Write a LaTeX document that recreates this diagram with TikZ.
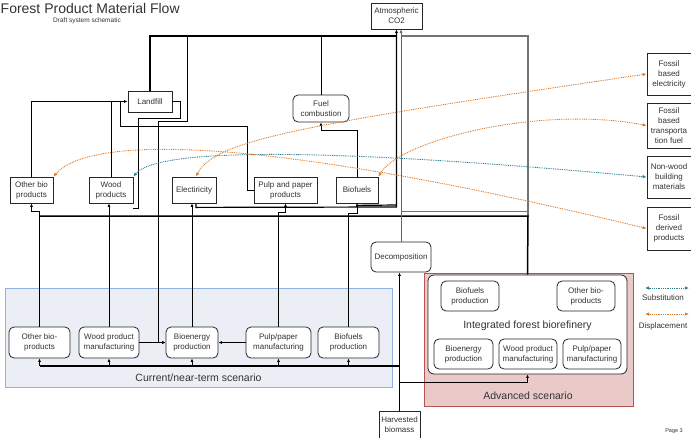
\documentclass[tikz,border=0pt]{standalone}
\usepackage{fontspec}
\setmainfont{Liberation Sans}
\usetikzlibrary{arrows.meta}
\definecolor{txt}{HTML}{333333}
\definecolor{orng}{HTML}{E07B2A}
\definecolor{teal2}{HTML}{2F7F90}
\definecolor{curfill}{HTML}{EBEFF5}
\definecolor{curline}{HTML}{8FB2E3}
\definecolor{advfill}{HTML}{EAC9C9}
\definecolor{advline}{HTML}{B85450}
\begin{document}
\begin{tikzpicture}[x=1pt,y=-1pt,
  every node/.style={text=txt, font=\fontsize{8}{10}\selectfont, inner sep=1pt, align=center},
  sq/.style={draw=black!85, line width=0.8pt, fill=white},
  rnd/.style={draw=black!85, line width=0.8pt, fill=white, rounded corners=5pt},
  ln/.style={draw=black, line width=0.8pt},
  arr/.style={ln, -{Latex[length=3.5pt,width=3pt]}},
  bus/.style={draw=black, line width=1.5pt},
  subst/.style={draw=teal2, line width=0.9pt, dash pattern=on 0.9pt off 0.9pt, {Latex[length=4pt,width=3.5pt]}-{Latex[length=4pt,width=3.5pt]}},
  displ/.style={subst, draw=orng},
]
\useasboundingbox (0,0) rectangle (691,437);
\fill[white] (0,0) rectangle (691,437);

% title
\node[font=\fontsize{14}{16}\selectfont, anchor=base west, inner sep=0pt] (title) at (0.5,13) {Forest Product Material Flow};
\node[font=\fontsize{6.5}{8}\selectfont] (subtitle) at (87,20.5) {Draft system schematic};
\node[font=\fontsize{5.5}{6}\selectfont] (page) at (674,431) {Page 3};

% scenario areas
\node[draw=curline, fill=curfill, line width=0.8pt, minimum width=387pt, minimum height=99pt, inner sep=0pt] (cur) at (198.5,337.5) {};
\node[font=\fontsize{10.5}{12}\selectfont] (curlbl) at (198.5,378) {Current/near-term scenario};
\node[draw=advline, fill=advfill, line width=0.9pt, minimum width=209pt, minimum height=133pt, inner sep=0pt] (adv) at (528.5,339.5) {};
\node[font=\fontsize{10.5}{12}\selectfont] (advlbl) at (528,396) {Advanced scenario};
\node[rnd, rounded corners=6pt, minimum width=199pt, minimum height=99pt, inner sep=0pt] (ifb) at (527.5,324.5) {};
\node[font=\fontsize{10.5}{12}\selectfont] (ifblbl) at (527.5,326) {Integrated forest biorefinery};

% top boxes
\node[sq, minimum width=51pt, minimum height=26pt] (co2) at (396.5,16) {Atmospheric\\CO2};
\node[sq, minimum width=44pt, minimum height=21pt] (landfill) at (150,101.5) {Landfill};
\node[rnd, minimum width=56pt, minimum height=27pt] (fuel) at (321,108.5) {Fuel\\combustion};

% products
\node[sq, minimum width=43pt, minimum height=26pt] (obp) at (31.5,190) {Other bio\\products};
\node[sq, minimum width=44pt, minimum height=26pt] (wp) at (111,190) {Wood\\products};
\node[sq, minimum width=44pt, minimum height=26pt] (elec) at (194,190) {Electiricity};
\node[sq, minimum width=63pt, minimum height=26pt] (pulp) at (285.5,190) {Pulp and paper\\products};
\node[sq, minimum width=42pt, minimum height=26pt] (bio) at (357,190) {Biofuels};
\node[rnd, minimum width=60pt, minimum height=30pt] (decomp) at (401,257) {Decomposition};

% fossil alternatives
\node[sq, minimum width=44pt, minimum height=42pt] (fe) at (669,74) {Fossil\\based\\electricity};
\node[sq, minimum width=44pt, minimum height=45pt] (ft) at (669,125.5) {Fossil\\based\\transporta\\tion fuel};
\node[sq, minimum width=44pt, minimum height=42pt] (nw) at (669,177) {Non-wood\\building\\materials};
\node[sq, minimum width=44pt, minimum height=43pt] (fd) at (669,228.5) {Fossil\\derived\\products};

% current scenario processes
\node[rnd, minimum width=61pt, minimum height=31pt] (cobp) at (39.5,342.5) {Other bio-\\products};
\node[rnd, minimum width=60pt, minimum height=31pt] (cwpm) at (109,342.5) {Wood product\\manufacturing};
\node[rnd, minimum width=52pt, minimum height=31pt] (cbe) at (192,342.5) {Bioenergy\\production};
\node[rnd, minimum width=65pt, minimum height=31pt] (cpp) at (278.5,342.5) {Pulp/paper\\manufacturing};
\node[rnd, minimum width=61pt, minimum height=31pt] (cbf) at (348.5,342.5) {Biofuels\\production};

% biorefinery processes
\node[rnd, minimum width=58pt, minimum height=30pt] (ibf) at (470,296) {Biofuels\\production};
\node[rnd, minimum width=58pt, minimum height=30pt] (iob) at (586,296) {Other bio-\\products};
\node[rnd, minimum width=59pt, minimum height=30pt] (ibe) at (463.5,354) {Bioenergy\\production};
\node[rnd, minimum width=58pt, minimum height=30pt] (iwp) at (528,354) {Wood product\\manufacturing};
\node[rnd, minimum width=58pt, minimum height=30pt] (ipp) at (592,354) {Pulp/paper\\manufacturing};

% harvested biomass
\node[sq, minimum width=41pt, minimum height=28pt] (harv) at (399.5,425) {Harvested\\biomass};

% legend
\coordinate (s1) at (645,288); \coordinate (s2) at (689,288);
\draw[subst] (s1) -- (s2);
\node (slbl) at (663,297.5) {Substitution};
\coordinate (d1) at (645,314); \coordinate (d2) at (689,314);
\draw[displ] (d1) -- (d2);
\node (dlbl) at (663,326) {Displacement};

% ---------- connectors ----------
% top bus to atmosphere
\draw[bus] (landfill.north) -- (150,36) -- (396.5,36);
\draw[ln] (fuel.north) -- (321,36);
\draw[draw=black!55, line width=1.5pt] (401,36) -- (528,36) -- (528,216);
\draw[bus] (ifb.north) -- (528,216) -- (40,216);
\draw[draw=black!55, line width=0.8pt] (401,211) -- (528,211);

% emissions to CO2
\draw[arr, line width=1.2pt] ([xshift=2pt]elec.south) -- ++(0,4) -- (396.5,207) -- (co2.south);
\draw[ln, line width=1.2pt] (bio.south) -- ++(0,2) -- (396.5,205);
\draw[arr, draw=black!60, line width=1pt] (decomp.north) -- (decomp.north |- co2.south);

% current processes to products
\draw[arr] (cobp.north) -- (39.5,211) -- (31.5,211) -- (obp.south);
\draw[arr] (cwpm.north) -- (cwpm.north |- wp.south);
\draw[arr] (cbe.north) -- (cbe.north |- elec.south);
\draw[arr] (cpp.north) -- (278.5,212) -- (285.5,212) -- (pulp.south);
\draw[arr] (cbf.north) -- (348.5,213) -- (357,213) -- (bio.south);

% to landfill
\draw[arr] (obp.north) -- (31.5,101.5) -- (landfill.west);
\draw[ln] (wp.north) -- (111,101.5);
\draw[ln] (pulp.west) -- (247,190) -- (247,126) -- (120,126) -- (120,101.5);

% from landfill
\draw[ln] (landfill.east) -- (180,101.5) -- (180,118) -- (138,118) -- (138,208) -- (133,208);
\draw[arr] (187,36) -- (187,121) -- (158,121) -- (158,342.5) -- (cbe.west);
\draw[arr] (cwpm.east) -- (cbe.west);
\draw[arr] (cpp.west) -- (cbe.east);

% biofuels to combustion
\draw[arr] (bio.north) -- (357,130) -- (321,130) -- (fuel.south);

% harvested biomass
\coordinate (hb) at (399.5,366);
\draw[ln, line width=1.5pt] (harv.north) -- (hb);
\draw[ln, line width=1.1pt] (hb) -- (39.5,366);
\foreach \n in {cobp,cwpm,cbe,cpp,cbf} \draw[arr] (\n.south |- hb) -- (\n.south);
\draw[arr, line width=1.2pt] (hb) -- (hb |- decomp.south);
\draw[arr] (399.5,382) -- (527.5,382) -- (ifb.south);

% substitution / displacement
\draw[displ] ([xshift=2pt]elec.north) .. controls (215,140) and (300,125) .. (fe.west);
\draw[displ] (bio.north east) .. controls (400,140) and (540,105) .. (ft.west);
\draw[subst] (wp.north east) .. controls (155,150) and (300,145) .. (nw.west);
\draw[displ] (obp.north east) .. controls (90,135) and (260,135) .. (fd.west);
\end{tikzpicture}
\end{document}
